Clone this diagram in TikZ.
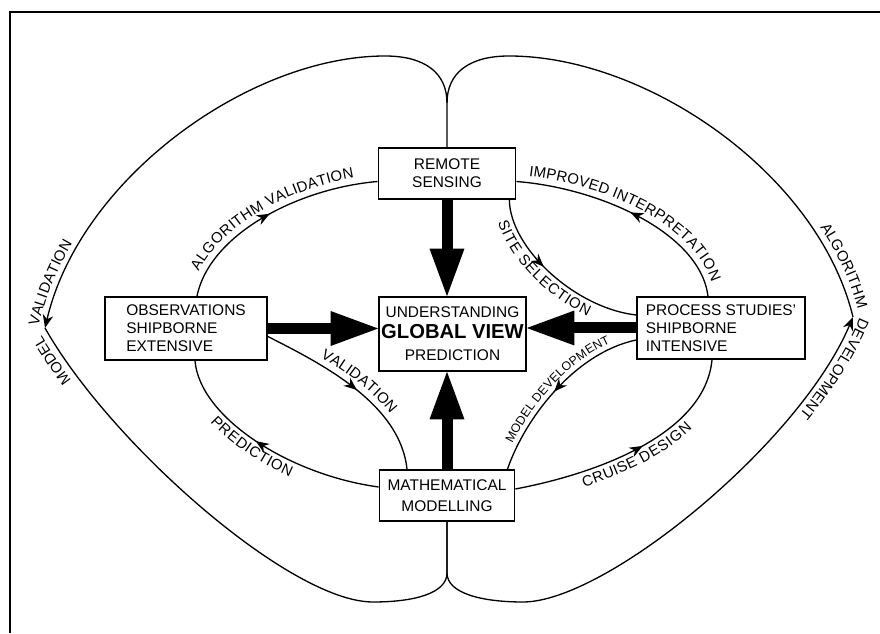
\documentclass[tikz,border=0pt]{standalone}
\usepackage{fontspec}
\setmainfont{Liberation Sans}
\usetikzlibrary{arrows.meta,calc,decorations.markings,decorations.text}
\def\boxfont{\fontsize{8.8}{10.2}\selectfont}
\def\lblfont{\fontsize{8.5}{10}\selectfont}
\def\smallfont{\fontsize{7}{8}\selectfont}
\tikzset{
	box/.style={draw, line width=1pt, font=\boxfont, inner sep=0pt},
	fatarrow/.style={line width=0.22cm, -{Triangle[length=0.95cm,width=0.7cm,line width=0pt]}},
	link/.style={line width=0.75pt},
	flowto/.style={postaction={decorate,decoration={markings,mark=at position #1 with {\arrow{Stealth[length=7.5pt,width=6pt]}}}}},
	flowback/.style={postaction={decorate,decoration={markings,mark=at position #1 with {\arrowreversed{Stealth[length=7.5pt,width=6pt]}}}}},
	tagabove/.style 2 args={postaction={decorate,decoration={text along path,text={|\lblfont|#1},text align={#2},raise=3.8pt}}},
	tagbelow/.style 2 args={postaction={decorate,decoration={text along path,text={|\lblfont|#1},text align={#2},raise=-8.5pt}}},
}

\begin{document}
\begin{tikzpicture}[x=0.02cm, y=0.02cm]
			%%%%% START %%%%%
			\useasboundingbox (0,0) rectangle (880,633);
			\draw[line width=1.3pt] (880,621) -- (10,621) -- (10,0);
			
			\node[box, minimum width=2.74cm, minimum height=1.02cm, align=center] (rs) at (447,459.5) {REMOTE\\SENSING};
			\node[box, minimum width=2.94cm, minimum height=1.48cm, align=center] (und) at (452.5,299) {UNDERSTANDING\\[1.6pt]{\fontsize{11.5}{13}\selectfont\bfseries GLOBAL VIEW}\\[2.5pt]PREDICTION};
			\node[box, minimum width=3.24cm, minimum height=1.26cm, align=left] (obs) at (186,304.5) {OBSERVATIONS\\SHIPBORNE\\EXTENSIVE};
			\node[box, minimum width=3.36cm, minimum height=1.24cm, align=left] (proc) at (721,305) {PROCESS STUDIES'\\SHIPBORNE\\INTENSIVE};
			\node[box, minimum width=2.70cm, minimum height=1.02cm, align=center] (math) at (447,137.5) {MATHEMATICAL\\[1.8pt]MODELLING};
			
			% heavy arrows into the centre
			\draw[fatarrow] (rs.south) -- (rs.south |- und.north);
			\draw[fatarrow] (math.north) -- (math.north |- und.south);
			\draw[fatarrow] (obs.east) -- (obs.east -| und.west);
			\draw[fatarrow] (proc.west) -- (proc.west -| und.east);
			
			% inner loops
			\draw[link, flowto=0.5, tagabove={ALGORITHM VALIDATION}{center}] ($(obs.north)+(11,0)$) .. controls (210,400) and (300,445) .. ($(rs.west)+(0,-8)$);
			\draw[link, flowback=0.5, tagabove={IMPROVED INTERPRETATION}{center}] ($(rs.east)+(0,-8)$) .. controls (600,445) and (700,400) .. ($(proc.north)+(-13,0)$);
			\draw[link, flowto=0.42, tagbelow={SITE SELECTION}{left indent=10pt}] ($(rs.south east)+(-7,0)$) .. controls (510,385) and (575,325) .. ($(proc.west)+(0,13)$);
			\draw[link, flowto=0.52, tagabove={VALIDATION}{center}] ($(obs.east)+(0,-8)$) .. controls (320,270) and (400,230) .. ($(math.north)+(-40,0)$);
			\draw[link, flowback=0.44, tagbelow={PREDICTION}{left indent=33pt}] ($(obs.south)+(9,0)$) .. controls (200,215) and (290,158) .. ($(math.west)+(0,8.5)$);
			\draw[link, flowback=0.48, postaction={decorate,decoration={text along path,text={|\smallfont|MODEL DEVELOPMENT},text align=center,raise=3pt}}] ($(math.north)+(60.5,0)$) .. controls (525,215) and (575,280) .. ($(proc.west)+(0,-12)$);
			\draw[link, flowto=0.54, tagbelow={CRUISE DESIGN}{center}] ($(math.east)+(0,6.5)$) .. controls (600,160) and (705,200) .. ($(proc.south)+(-9,0)$);
			
			% outer loops
			\coordinate (topcusp) at (447,530);
			\coordinate (botcusp) at (447,60);
			\coordinate (lpt) at (45,305);
			\coordinate (rpt) at (853,316);
			
			\draw[link, -{Stealth[length=7.5pt,width=6pt]}] (rs.north) -- (topcusp) .. controls (447,560) and (425,577) .. (385,577) .. controls (250,577) and (80,455) .. (lpt);
			\draw[link] (lpt) .. controls (110,190) and (290,31) .. (373,31) .. controls (415,31) and (447,40) .. (botcusp) -- (math.south);
			\draw[link] (topcusp) .. controls (447,560) and (469,577) .. (509,577) .. controls (646,577) and (818,460) .. (rpt);
			\draw[link, -{Stealth[length=7.5pt,width=6pt]}] (math.south) -- (botcusp) .. controls (447,40) and (481,31) .. (523,31) .. controls (606,31) and (800,190) .. (rpt);
			
			\path[tagabove={MODEL VALIDATION}{left indent=46pt}] (128.8,195.1) .. controls (94.4,232) and (64.5,270.5) .. (lpt) .. controls (55.5,350) and (78.2,392.5) .. (108.4,429.9);
			\path[tagabove={ALGORITHM DEVELOPMENT}{left indent=10.6pt}] (803.7,417.5) .. controls (826.9,386.3) and (844.3,352) .. (rpt) .. controls (834.5,271.9) and (798.6,223.8) .. (756.3,179.8);
			
			%%%%% END %%%%%
\end{tikzpicture}
\end{document}
